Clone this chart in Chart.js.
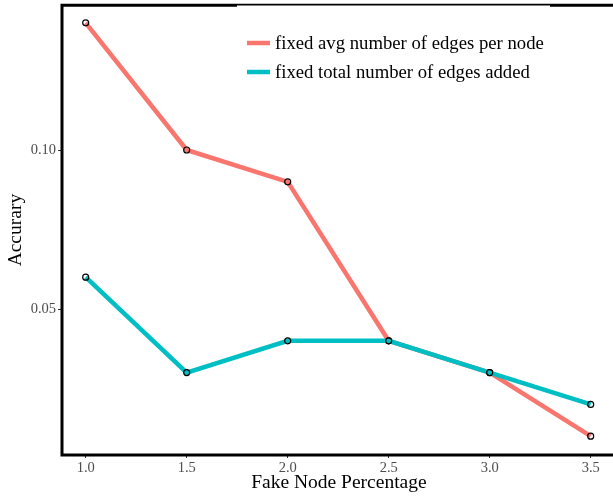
<!DOCTYPE html>
<html>
<head>
<meta charset="utf-8">
<script src="https://cdn.jsdelivr.net/npm/chart.js@4.4.1/dist/chart.umd.min.js"></script>
<style>
html,body{margin:0;padding:0;background:#fff;overflow:hidden;width:613px;height:496px;}
#wrap{position:absolute;left:0;top:0;width:621px;height:496px;}
</style>
</head>
<body>
<div id="wrap"><canvas id="c" width="621" height="496" style="width:621px;height:496px;"></canvas></div>
<script>
const xValues = [1.0, 1.5, 2.0, 2.5, 3.0, 3.5];
const avgEdges = [0.14, 0.10, 0.09, 0.04, 0.03, 0.01];
const totalEdges = [0.06, 0.03, 0.04, 0.04, 0.03, 0.02];
const seriesLabels = ['fixed avg number of edges per node', 'fixed total number of edges added'];
const xTicks = [1.0, 1.5, 2.0, 2.5, 3.0, 3.5];
const yTicks = [0.05, 0.10];

const RED = '#F8766D', CYAN = '#00BFC4';
const SERIF = "'Liberation Serif', 'DejaVu Serif', serif";

function pts(ys){ return xValues.map((x,i)=>({x:x,y:ys[i]})); }
function noPad(s){ s.paddingTop = 0; s.paddingBottom = 0; s.paddingLeft = 0; s.paddingRight = 0; }

const frame = {
  id:'frame',
  afterDatasetsDraw(chart){
    const {ctx, chartArea:a} = chart;
    ctx.save();
    ctx.strokeStyle = '#000';
    ctx.lineWidth = 3;
    ctx.lineCap = 'butt';
    ctx.beginPath();
    ctx.moveTo(a.left, a.top); ctx.lineTo(chart.width, a.top);
    ctx.moveTo(a.left, a.top-1.5); ctx.lineTo(a.left, a.bottom+1.5);
    ctx.moveTo(a.left-1.5, a.bottom); ctx.lineTo(chart.width, a.bottom);
    ctx.stroke();
    ctx.fillStyle = '#fff';
    ctx.fillRect(237, a.top+0.3, 313, 95);
    const ds = chart.data.datasets;
    ctx.font = "18.7px " + SERIF;
    ctx.textBaseline = 'middle';
    ctx.textAlign = 'left';
    const rows = [43, 72];
    ds.forEach((d,i)=>{
      ctx.strokeStyle = d.borderColor;
      ctx.lineWidth = 4.5;
      ctx.beginPath();
      ctx.moveTo(247, rows[i]); ctx.lineTo(270, rows[i]);
      ctx.stroke();
      ctx.fillStyle = '#000';
      ctx.fillText(d.label, 275, rows[i]+1);
    });
    ctx.restore();
  }
};

new Chart(document.getElementById('c'), {
  type:'line',
  data:{
    datasets:[
      {label:seriesLabels[0], data:pts(avgEdges), borderColor:RED, backgroundColor:RED, borderWidth:4.5,
       pointRadius:3, pointBorderColor:'#000', pointBorderWidth:1.2, pointBackgroundColor:'rgba(0,0,0,0)', tension:0, order:2},
      {label:seriesLabels[1], data:pts(totalEdges), borderColor:CYAN, backgroundColor:CYAN, borderWidth:4.5,
       pointRadius:3, pointBorderColor:'#000', pointBorderWidth:1.2, pointBackgroundColor:'rgba(0,0,0,0)', tension:0, order:1}
    ]
  },
  options:{
    responsive:false,
    animation:false,
    devicePixelRatio:1,
    layout:{padding:{left:0,right:2,top:4.7,bottom:0}},
    plugins:{legend:{display:false}, tooltip:{enabled:false}},
    scales:{
      x:{
        type:'linear', min:0.8827, max:3.6243,
        afterBuildTicks(s){ s.ticks = xTicks.map(v=>({value:v})); },
        afterFit(s){ s.height = 41; noPad(s); },
        grid:{drawOnChartArea:false, drawTicks:true, tickLength:3, tickColor:'#333', tickWidth:1},
        border:{display:false},
        ticks:{color:'#4D4D4D', font:{family:SERIF, size:14.5}, padding:1, maxRotation:0,
               callback:(v)=>Number(v).toFixed(1)},
        title:{display:true, text:'Fake Node Percentage', color:'#000', font:{family:SERIF, size:19.5}, padding:{top:0,bottom:1}}
      },
      y:{
        type:'linear', min:0.00409, max:0.14554,
        afterBuildTicks(s){ s.ticks = yTicks.map(v=>({value:v})); },
        afterFit(s){ s.width = 62; noPad(s); },
        grid:{drawOnChartArea:false, drawTicks:true, tickLength:4, tickColor:'#333', tickWidth:1},
        border:{display:false},
        ticks:{color:'#4D4D4D', font:{family:SERIF, size:14.5}, padding:2,
               callback:(v)=>Number(v).toFixed(2)},
        title:{display:true, text:'Accurary', color:'#000', font:{family:SERIF, size:19.5}, padding:{top:4,bottom:0}}
      }
    }
  },
  plugins:[frame]
});
</script>
</body>
</html>
